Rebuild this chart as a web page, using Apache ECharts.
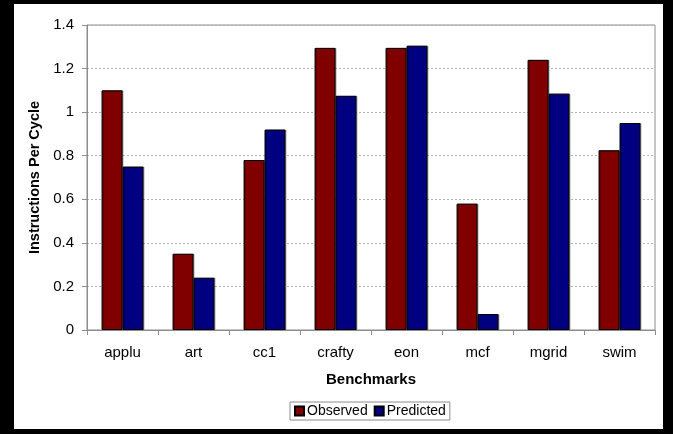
<!DOCTYPE html>
<html>
<head>
<meta charset="utf-8">
<script src="https://cdn.jsdelivr.net/npm/echarts@6/dist/echarts.min.js"></script>
<style>
  html, body { margin: 0; padding: 0; background: #000; }
  #chart { width: 673px; height: 434px; }
</style>
</head>
<body>
<div id="chart"></div>
<script>
// Benchmark IPC: measured vs. model prediction
const benchmarks = ['applu', 'art', 'cc1', 'crafty', 'eon', 'mcf', 'mgrid', 'swim'];
const observed  = [1.10, 0.35, 0.78, 1.295, 1.295, 0.58, 1.24, 0.825];
const predicted = [0.75, 0.24, 0.92, 1.075, 1.305, 0.073, 1.085, 0.95];
const yTicks = { min: 0, max: 1.4, step: 0.2 };

const FONT = '"Liberation Sans", Arial, sans-serif';
const chart = echarts.init(document.getElementById('chart'), null, { renderer: 'canvas' });

const barStyle = (color) => ({
  color: color,
  borderColor: '#000',
  borderWidth: 1,
  shadowColor: 'rgba(0,0,0,0.35)',
  shadowOffsetX: 1,
  shadowOffsetY: 0,
  shadowBlur: 0
});

chart.setOption({
  backgroundColor: '#000',
  animation: false,
  textStyle: { fontFamily: FONT },
  graphic: [{
    type: 'rect',
    z: -10,
    shape: { x: 14, y: 4, width: 649, height: 425 },
    style: { fill: '#fff' }
  }],
  grid: {
    left: 87, top: 25, right: 18, bottom: 104,
    show: true, borderColor: '#8c8c8c', borderWidth: 1,
    containLabel: false
  },
  legend: {
    data: ['Observed', 'Predicted'],
    left: 290, top: 402,
    orient: 'horizontal',
    icon: 'rect',
    itemWidth: 9, itemHeight: 9, itemGap: 6,
    padding: [2, 4, 2, 4],
    borderColor: '#8c8c8c', borderWidth: 1,
    textStyle: { fontFamily: FONT, fontSize: 14, color: '#000', padding: [0, 0, 0, -2] }
  },
  xAxis: {
    type: 'category',
    data: benchmarks,
    name: 'Benchmarks',
    nameLocation: 'middle',
    nameGap: 42,
    nameTextStyle: { fontFamily: FONT, fontSize: 15, fontWeight: 'bold', color: '#000' },
    axisLine: { lineStyle: { color: '#8c8c8c', width: 1 } },
    axisTick: { show: true, alignWithLabel: false, length: 5, lineStyle: { color: '#8c8c8c' } },
    axisLabel: { fontFamily: FONT, fontSize: 15, color: '#000', margin: 15 }
  },
  yAxis: {
    type: 'value',
    min: yTicks.min, max: yTicks.max, interval: yTicks.step,
    name: 'Instructions Per Cycle',
    nameLocation: 'middle',
    nameGap: 38,
    nameTextStyle: { fontFamily: FONT, fontSize: 14.5, fontWeight: 'bold', color: '#000' },
    axisLine: { show: true, lineStyle: { color: '#8c8c8c', width: 1 } },
    axisTick: { show: true, length: 5, lineStyle: { color: '#8c8c8c' } },
    axisLabel: { fontFamily: FONT, fontSize: 15, color: '#000', margin: 13 },
    splitLine: { show: true, lineStyle: { color: '#b4b4b4', type: [2, 2], width: 1 } }
  },
  series: [
    {
      name: 'Observed', type: 'bar', data: observed,
      barGap: '0%', barCategoryGap: '41%',
      itemStyle: barStyle('#800000')
    },
    {
      name: 'Predicted', type: 'bar', data: predicted,
      barGap: '0%', barCategoryGap: '41%',
      itemStyle: barStyle('#000080')
    }
  ]
});
</script>
</body>
</html>
